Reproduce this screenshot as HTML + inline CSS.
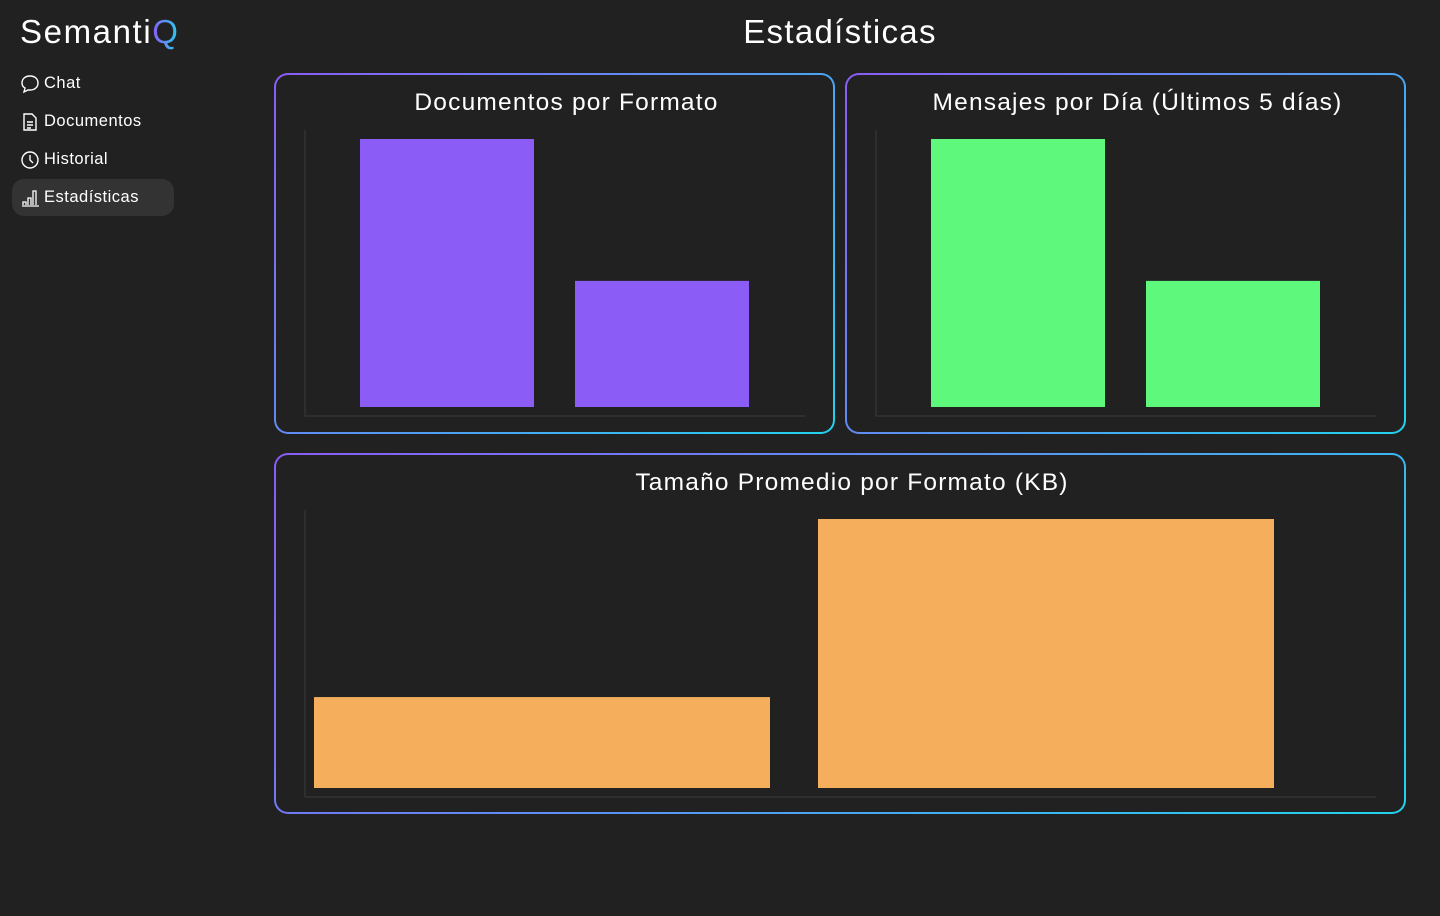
<!DOCTYPE html>
<html><head><meta charset="utf-8"><style>
body{margin:0;width:1440px;height:916px;background:#212121;font-family:"Liberation Sans",sans-serif;color:#fff;overflow:hidden;position:relative}
.logo{position:absolute;left:20px;top:13px;font-size:33px;letter-spacing:1.6px}
.logo span{background:linear-gradient(90deg,#8b5cf6,#22d3ee);-webkit-background-clip:text;color:transparent}
.nav{position:absolute;left:12px;width:162px;height:37px;display:flex;align-items:center;font-size:16.5px;letter-spacing:0.5px;border-radius:12px}
.nav svg{margin-left:8px;margin-right:4px}
.nav.active{background:#333}
h1{position:absolute;left:0;width:1680px;top:13px;margin:0;text-align:center;font-size:33px;font-weight:normal;letter-spacing:1.3px}
.card{position:absolute;border-radius:14px;padding:2px;background:linear-gradient(135deg,#8b5cf6,#22d3ee)}
.card .in{width:100%;height:100%;background:#212121;border-radius:12px}
.ct{position:absolute;text-align:center;font-size:24.5px;letter-spacing:1.2px}
svg.ch{position:absolute;left:0;top:0}
</style></head><body>
<div class="logo">Semanti<span>Q</span></div>
<div class="nav" style="top:65px"><svg width="20" height="20" viewBox="0 0 20 20"><path d="M10 2C5 2 2 5 2 9c0 2 1 4 3 5l-1 4 4-2c1 0 1 0 2 0 5 0 8-3 8-7s-3-7-8-7z" fill="none" stroke="#fff" stroke-width="1.4"/></svg>Chat</div>
<div class="nav" style="top:103px"><svg width="20" height="20" viewBox="0 0 20 20"><path d="M4 2h8l4 4v12H4z M7 10h6M7 13h6M7 16h4" fill="none" stroke="#fff" stroke-width="1.4"/></svg>Documentos</div>
<div class="nav" style="top:141px"><svg width="20" height="20" viewBox="0 0 20 20"><circle cx="10" cy="10" r="8" fill="none" stroke="#fff" stroke-width="1.4"/><path d="M10 5v5l3 3" fill="none" stroke="#fff" stroke-width="1.4"/></svg>Historial</div>
<div class="nav active" style="top:179px"><svg width="20" height="20" viewBox="0 0 20 20"><path d="M2 18h17M3 17v-3h3v3M8 17V10h3v7M13 17V3h3v14" fill="none" stroke="#fff" stroke-width="1.3"/></svg>Estadísticas</div>
<h1>Estadísticas</h1>

<div class="card" style="left:274px;top:73px;width:557px;height:357px"><div class="in"></div></div>
<div class="card" style="left:845px;top:73px;width:557px;height:357px"><div class="in"></div></div>
<div class="card" style="left:274px;top:453px;width:1128px;height:357px"><div class="in"></div></div>
<div class="ct" style="left:288px;width:557px;top:89px">Documentos por Formato</div>
<div class="ct" style="left:859px;width:557px;top:89px">Mensajes por Día (Últimos 5 días)</div>
<div class="ct" style="left:288px;width:1128px;top:469px">Tamaño Promedio por Formato (KB)</div>
<svg class="ch" id="svg" width="1440" height="916"></svg>
<script>
const docCats=["PDF","DOCX"];
const docVals=[17,8];
const msgCats=["Día 1","Día 2"];
const msgVals=[17,8];
const sizeCats=["PDF","DOCX"];
const sizeVals=[120,355];
const NS="http://www.w3.org/2000/svg";
const svg=document.getElementById('svg');
function chart(name,cats,vals,color,x0,x1,yTop,yBase,barStart,step,bw){
  const ax=document.createElementNS(NS,'path');
  ax.setAttribute('d',`M${x0} ${yTop-9}V${yBase+9}H${x1}`);
  ax.setAttribute('stroke','#3a3a3a');ax.setAttribute('fill','none');
  
  
  svg.appendChild(ax);
  const max=Math.max(...vals);
  const y=v=>yBase-(v/max)*(yBase-yTop);
  cats.forEach((c,i)=>{
    const r=document.createElementNS(NS,'rect');
    r.setAttribute('x',barStart+i*step);r.setAttribute('width',bw);
    r.setAttribute('y',y(vals[i]));r.setAttribute('height',yBase-y(vals[i]));
    r.setAttribute('fill',color);
    
    
    svg.appendChild(r);
  });
}
chart('chart1',docCats,docVals,'#8b5cf6',305,805,139,407,360,215,174);
chart('chart2',msgCats,msgVals,'#5ef87c',876,1376,139,407,931,215,174);
chart('chart3',sizeCats,sizeVals,'#f4ae5c',305,1376,519,788,314,504,456);
</script>
</body></html>
